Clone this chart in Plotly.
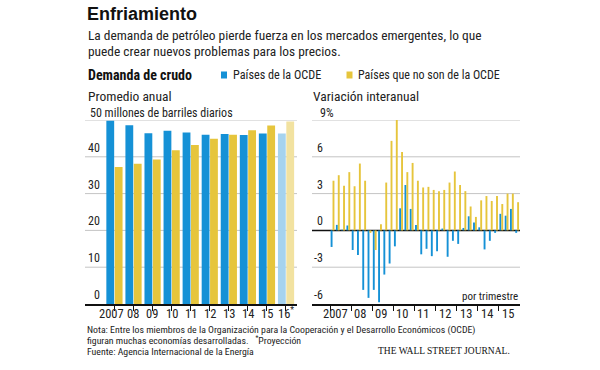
import plotly.graph_objects as go

# ---------------- data ----------------
annual_labels = ["2007", "08", "09", "10", "11", "12", "13", "14", "15", "16<sup>*</sup>"]
ocde_annual = [49.8, 48.6, 46.4, 47.1, 46.6, 46.0, 46.2, 45.9, 46.3, 46.3]
no_ocde_annual = [37.2, 38.1, 39.3, 41.8, 43.2, 44.9, 46.0, 47.2, 48.5, 49.6]

quarter_years = [2007, 2008, 2009, 2010, 2011, 2012, 2013, 2014, 2015]
quarter_year_labels = ["2007", "08", "09", "10", "11", "12", "13", "14", "15"]
ocde_var = [-1.35, 0.45, 0.05, 0.4, -1.6, -2.0, -4.85, -5.5, -4.85, -5.85, -3.6, -2.7,
            -1.3, 1.8, 3.7, 1.75, 0.45, -1.95, -1.5, -2.1, -1.7, 0.15, -2.15, -0.85,
            -1.1, 0.2, 1.15, 0.65, 0.25, -1.55, -0.85, -0.2, 1.35, 1.2, 1.75, -0.2]
no_ocde_var = [4.05, 4.5, 3.65, 4.75, 3.6, 5.45, 4.05, -0.2, -1.6, 0.5, 3.9, 7.3,
               9.2, 6.4, 4.75, 5.5, 4.05, 3.5, 3.55, 3.3, 3.2, 3.3, 3.9, 4.8,
               3.7, 3.2, 1.95, 1.1, 2.45, 2.8, 2.4, 2.8, 2.15, 3.0, 3.0, 2.3]

left_ticks = [10, 20, 30, 40, 0]
left_grid = [10, 20, 30, 40, 50]
right_ticks = [6, 3, 0, -3, -6]
right_grid = [-3, 3, 6, 9]

# ---------------- styles ----------------
W, H = 600, 370
BLUE = "#1591d6"
YELLOW = "#e6c53c"
LBLUE = "#a6d3ef"
LYELLOW = "#f2e2a0"
GRID = "#c4c4c4"
TXT = "#222222"
NARROW = "Liberation Sans Narrow, Arial Narrow, Roboto Condensed, sans-serif"
REG = "Liberation Sans, Arial, sans-serif"


def fx(x):
    return x / W


def fy(y):
    return 1 - y / H


n = len(annual_labels)
xa = list(range(n))
blue_cols = [BLUE] * (n - 1) + [LBLUE]
yel_cols = [YELLOW] * (n - 1) + [LYELLOW]

xq = [y + (q + 0.5) / 4 for y in quarter_years for q in range(4)]

fig = go.Figure()
fig.add_trace(go.Bar(x=xa, y=ocde_annual, marker=dict(color=blue_cols, line=dict(width=0)),
                     width=0.41, offset=-0.42, xaxis="x", yaxis="y", showlegend=False))
fig.add_trace(go.Bar(x=xa, y=no_ocde_annual, marker=dict(color=yel_cols, line=dict(width=0)),
                     width=0.41, offset=0.02, xaxis="x", yaxis="y", showlegend=False))
fig.add_trace(go.Bar(x=xq, y=ocde_var, marker=dict(color=BLUE, line=dict(width=0)),
                     width=0.09, offset=-0.095, xaxis="x2", yaxis="y2", showlegend=False))
fig.add_trace(go.Bar(x=xq, y=no_ocde_var, marker=dict(color=YELLOW, line=dict(width=0)),
                     width=0.09, offset=-0.005, xaxis="x2", yaxis="y2", showlegend=False))

ydom = [fy(304), fy(120)]
fig.update_layout(
    width=W, height=H, margin=dict(l=0, r=0, t=0, b=0, autoexpand=False),
    paper_bgcolor="white", plot_bgcolor="rgba(0,0,0,0)", barmode="overlay",
    font=dict(family=NARROW, color=TXT),
    xaxis=dict(domain=[fx(85), fx(297)], range=[-1.54, 9.58], tickmode="array",
               tickvals=xa, showticklabels=False, ticks="outside", ticklen=5,
               tickcolor="#111", tickwidth=1, showline=True, linecolor="#111", linewidth=1.5,
               showgrid=False, zeroline=False, automargin=False, fixedrange=True),
    yaxis=dict(domain=ydom, range=[0, 50], showticklabels=False, showgrid=False,
               zeroline=False, showline=False, automargin=False),
    xaxis2=dict(domain=[fx(312), fx(520)], range=[2006.147, 2016.005], tickmode="array",
                tickvals=quarter_years, showticklabels=False, ticks="outside", ticklen=5,
                tickcolor="#111", tickwidth=1, showline=True, linecolor="#111", linewidth=1.5,
                showgrid=False, zeroline=False, automargin=False, anchor="y2"),
    yaxis2=dict(domain=ydom, range=[-6, 9], showticklabels=False, showgrid=False,
                zeroline=False, showline=False, anchor="x2", automargin=False),
)

shapes = []
for v in left_grid:
    shapes.append(dict(type="line", xref="x domain", yref="y", x0=0, x1=1, y0=v, y1=v,
                       line=dict(color=GRID, width=1), layer="below"))
for v in right_grid:
    shapes.append(dict(type="line", xref="x2 domain", yref="y2", x0=0, x1=1, y0=v, y1=v,
                       line=dict(color=GRID, width=1), layer="below"))
shapes.append(dict(type="line", xref="x2 domain", yref="y2", x0=0, x1=1, y0=0, y1=0,
                   line=dict(color="#111", width=1.5), layer="below"))

ann = []


def text(x, y, s, size, family=NARROW, xanchor="left", yanchor="middle", color=TXT, **kw):
    ann.append(dict(x=fx(x), y=fy(y), xref="paper", yref="paper", text=s, showarrow=False,
                    xanchor=xanchor, yanchor=yanchor,
                    font=dict(size=size, family=family, color=color), **kw))


text(85, 14, "<b>Enfriamiento</b>", 18, family=REG, color="#111")
text(86, 35, "La demanda de petróleo pierde fuerza en los mercados emergentes, lo que", 13.4)
text(86, 51, "puede crear nuevos problemas para los precios.", 13.4)
text(86, 75, "<b>Demanda de crudo</b>", 14, color="#111")
text(231, 75, "Países de la OCDE", 12.2)
text(356, 75, "Países que no son de la OCDE", 12)
text(86, 96, "Promedio anual", 13.5)
text(311, 96, "Variación interanual", 13.5)
text(88, 113, "50 millones de barriles diarios", 12)
text(318, 113, "9%", 12)
text(520, 296, "por trimestre", 11, xanchor="right")
text(85, 330, "Nota: Entre los miembros de la Organización para la Cooperación y el Desarrollo Económicos (OCDE)", 9.8)
text(85, 340, "figuran muchas economías desarrolladas.   <sup>*</sup>Proyección", 9.8)
text(85, 351, "Fuente: Agencia Internacional de la Energía", 9.8)
text(512, 351, "THE WALL STREET JOURNAL.", 9.5, family="Liberation Serif, DejaVu Serif, serif",
     xanchor="right", color="#111")

# y-axis labels (sitting above the gridlines)
for v in left_ticks:
    ann.append(dict(x=fx(102), y=v, xref="paper", yref="y", text=str(v), showarrow=False,
                    xanchor="right", yanchor="bottom",
                    font=dict(size=12, family=NARROW, color=TXT)))
for v in right_ticks:
    ann.append(dict(x=fx(325), y=v, xref="paper", yref="y2", text=str(v),
                    showarrow=False, xanchor="right", yanchor="bottom",
                    font=dict(size=12, family=NARROW, color=TXT)))

# x-axis labels
for k, lab in enumerate(annual_labels):
    ann.append(dict(x=k, y=fy(313), xref="x", yref="paper", text=lab, showarrow=False,
                    xanchor="center", yanchor="middle", xshift=-3 if k == 0 else 0,
                    font=dict(size=12.5, family=NARROW, color=TXT)))
for k, (yr, lab) in enumerate(zip(quarter_years, quarter_year_labels)):
    ann.append(dict(x=yr + 0.5, y=fy(313), xref="x2", yref="paper", text=lab, showarrow=False,
                    xanchor="center", yanchor="middle", xshift=-5 if k == 0 else -1.5,
                    font=dict(size=12.5, family=NARROW, color=TXT)))

shapes += [
    dict(type="rect", xref="paper", yref="paper", x0=fx(221), x1=fx(227), y0=fy(78.5), y1=fy(71.5),
         fillcolor=BLUE, line=dict(width=0)),
    dict(type="rect", xref="paper", yref="paper", x0=fx(346.5), x1=fx(352.5), y0=fy(78.5), y1=fy(71.5),
         fillcolor=YELLOW, line=dict(width=0)),
]
fig.update_layout(annotations=ann, shapes=shapes)

fig.write_html("out.html", config={"displayModeBar": False, "staticPlot": True},
               post_script="document.body.style.margin='0px';document.body.style.padding='0px';"
                           "document.body.style.overflow='hidden';")
